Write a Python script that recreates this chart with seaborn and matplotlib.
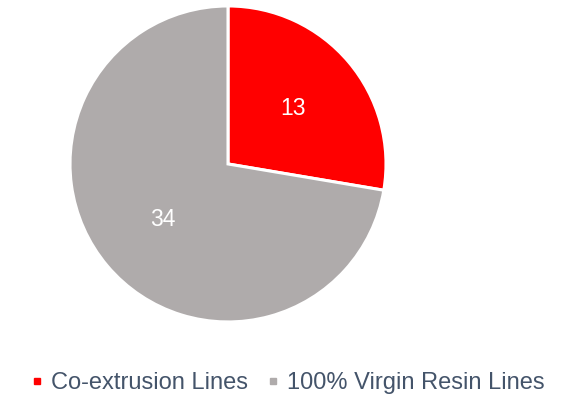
import matplotlib
matplotlib.use("Agg")
import matplotlib.pyplot as plt
from matplotlib.lines import Line2D
import seaborn as sns

categories = ["Co-extrusion Lines", "100% Virgin Resin Lines"]
values = [13, 34]
colors = ["#FF0000", "#AFABAB"]

sns.set_theme(style="white")
plt.rcParams["font.family"] = ["Liberation Sans", "DejaVu Sans"]

fig = plt.figure(figsize=(5.71, 3.97), dpi=100)
ax = fig.add_axes([0.1226, 0.189, 0.5534, 0.796])

wedges, texts, autotexts = ax.pie(
    values,
    colors=colors,
    startangle=90,
    counterclock=False,
    radius=1,
    autopct=lambda p: f"{round(p * sum(values) / 100):d}",
    pctdistance=0.54,
    wedgeprops=dict(edgecolor="white", linewidth=2.2),
    textprops=dict(color="white", fontsize=16.5),
)
ax.set_xlim(-1, 1)
ax.set_ylim(-1, 1)
ax.set_aspect("equal")
ax.axis("off")

handles = [
    Line2D([], [], marker="s", linestyle="none", markersize=5,
           markerfacecolor=c, markeredgecolor=c)
    for c in colors
]
leg = fig.legend(
    handles, categories,
    loc="center", bbox_to_anchor=(0.5035, 0.035),
    ncol=2, frameon=False, fontsize=17,
    handlelength=0.5, handletextpad=0.35, columnspacing=0.8,
)
for t in leg.get_texts():
    t.set_color("#44546A")

fig.savefig("out.png", dpi=100, facecolor="white")
